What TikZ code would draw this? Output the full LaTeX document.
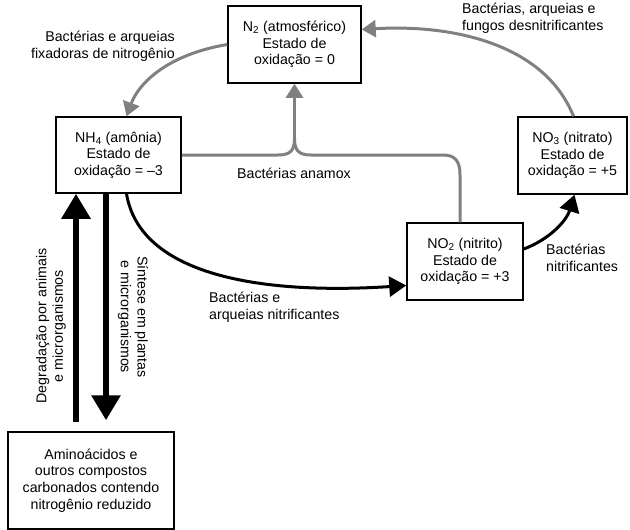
\documentclass[tikz,border=0pt]{standalone}
\usepackage{fontspec}
\setmainfont{Liberation Sans}
\usetikzlibrary{arrows.meta}

\tikzset{
  box/.style={draw, line width=1.5pt, align=center, inner sep=0pt},
  lbl/.style={inner sep=0pt},
  grayarrow/.style={draw=black!50, line width=3pt, -{Triangle[length=14pt,width=17pt]}},
  grayline/.style={draw=black!50, line width=3pt},
  blackarrow/.style={draw=black, line width=3pt, -{Triangle[length=17pt,width=20pt]}},
  bigarrow/.style={draw=black, line width=6pt, -{Triangle[length=25pt,width=28pt]}}
}

\begin{document}
\begin{tikzpicture}[x=1pt,y=-1pt,font=\fontsize{14.2}{16.6}\selectfont]

    \useasboundingbox (0,0) rectangle (630,530);

    % the five compounds
    \node[box, minimum width=133pt, minimum height=77pt] (n2) at (294.5,44.5)
      {N\textsubscript{2} (atmosférico)\\Estado de\\oxidação = 0};
    \node[box, minimum width=125pt, minimum height=76pt] (nh4) at (118.5,155)
      {NH\textsubscript{4} (amônia)\\Estado de\\oxidação = –3};
    \node[box, minimum width=109pt, minimum height=77pt] (no3) at (572.5,155.5)
      {NO\textsubscript{3} (nitrato)\\Estado de\\oxidação = +5};
    \node[box, minimum width=116pt, minimum height=77pt] (no2) at (465,261.5)
      {NO\textsubscript{2} (nitrito)\\Estado de\\oxidação = +3};
    \node[box, minimum width=166pt, minimum height=97pt] (amino) at (91,480.5)
      {Aminoácidos e\\outros compostos\\carbonados contendo\\nitrogênio reduzido};

    % fixation and denitrification
    \draw[grayarrow] (n2.west) .. controls (165,55) and (138,85) .. ([xshift=8pt]nh4.north);
    \draw[grayarrow] ([xshift=1pt]no3.north) .. controls (545,45) and (455,24) .. ([yshift=15pt]n2.east);

    % anamox, two branches joining below N2
    \coordinate (jn) at (294.5,138);
    \draw[grayline] (nh4.east) -- (278,155) .. controls (291,155) and (294.5,150) .. (jn);
    \draw[grayline] ([xshift=-5pt]no2.north) -- (460,175) .. controls (460,161) and (455,155) .. (443,155)
      -- (311,155) .. controls (298,155) and (294.5,150) .. (jn);
    \draw[grayarrow] (jn) -- (n2.south);

    % nitrification
    \draw[blackarrow] ([xshift=8pt]nh4.south) .. controls (140,275) and (260,295) .. ([yshift=-24pt]no2.west);
    \draw[blackarrow] ([yshift=12.5pt]no2.east) .. controls (548,240) and (566,222) .. ([xshift=2pt]no3.south);

    % degradation and synthesis
    \coordinate (upbot) at (76,422);
    \coordinate (dntop) at (106,193);
    \draw[bigarrow] (upbot) -- (nh4.south -| upbot);
    \draw[bigarrow] (dntop) -- ([yshift=11pt]amino.north -| dntop);

    % labels
    \node[lbl, align=right, anchor=east] (lfix) at (175,46)
      {Bactérias e arqueias\\fixadoras de nitrogênio};
    \node[lbl, align=left, anchor=west] (lden) at (462,18)
      {Bactérias, arqueias e\\fungos desnitrificantes};
    \node[lbl] (lana) at (294,173) {Bactérias anamox};
    \node[lbl, align=left, anchor=west] (lnit1) at (209,307)
      {Bactérias e\\arqueias nitrificantes};
    \node[lbl, align=left, anchor=west] (lnit2) at (546,258)
      {Bactérias\\nitrificantes};
    \node[lbl, align=center, rotate=90] (ldeg) at (51,326)
      {Degradação por animais\\e microrganismos};
    \node[lbl, align=center, rotate=-90] (lsin) at (133,317)
      {Síntese em plantas\\e microrganismos};

\end{tikzpicture}
\end{document}
